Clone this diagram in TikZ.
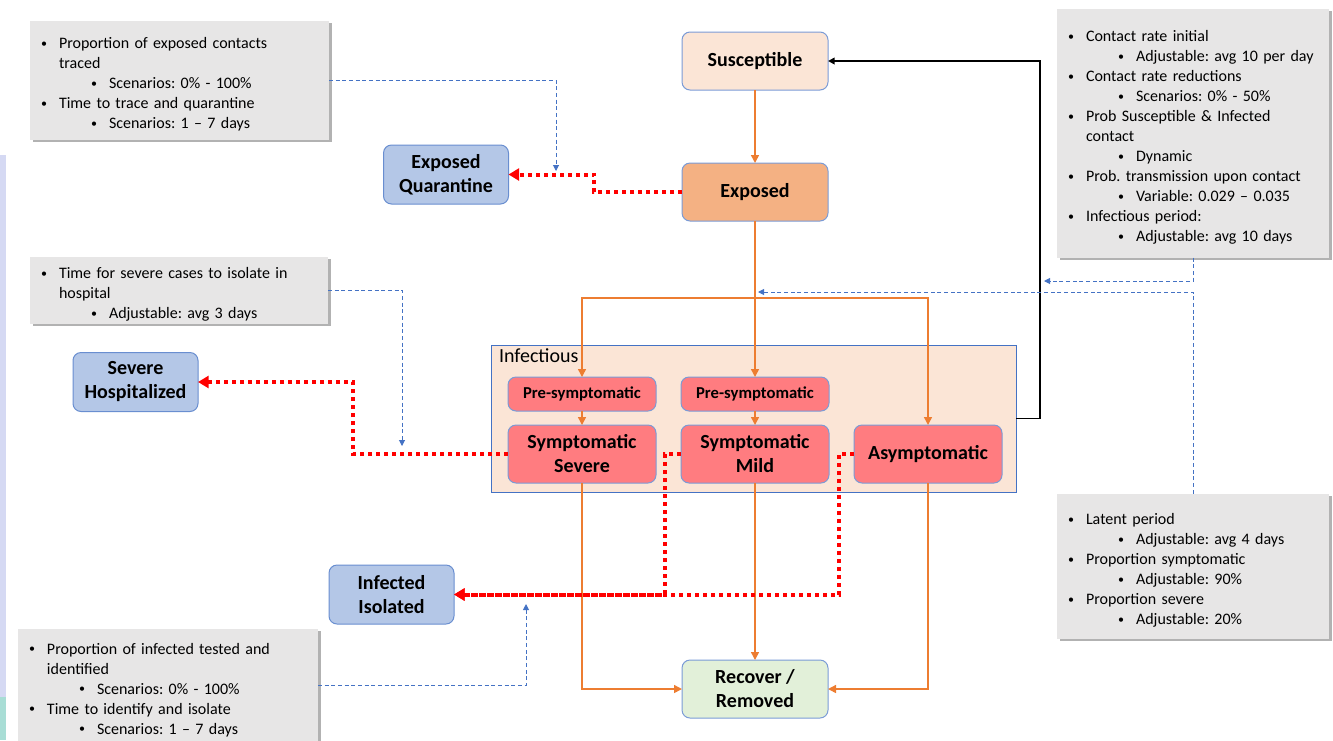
\documentclass[tikz,border=0pt]{standalone}
\usepackage{fontspec}
\setmainfont{Carlito}
\usepackage{enumitem}
\usetikzlibrary{positioning,arrows.meta,shadows}
\definecolor{peach}{HTML}{FBE5D6}
\definecolor{apricot}{HTML}{F4B183}
\definecolor{mint}{HTML}{E2F0D9}
\definecolor{steel}{HTML}{B4C7E7}
\definecolor{salmon}{HTML}{FF7C80}
\definecolor{nodeborder}{HTML}{7A9BD6}
\definecolor{zoneborder}{HTML}{4472C4}
\definecolor{notegray}{HTML}{E7E6E6}
\definecolor{flowor}{HTML}{ED7D31}
\definecolor{parblue}{HTML}{4472C4}
\definecolor{lavstrip}{HTML}{D5D9F3}
\definecolor{tealstrip}{HTML}{A8DDD5}
\pgfdeclarelayer{background}
\pgfsetlayers{background,main}
\frenchspacing
\newcommand\notefont{\fontsize{12}{15}\selectfont}
\newcommand\notedot{\raisebox{1pt}{\fontsize{9}{9}\selectfont\textbullet}}
\setlist[itemize,1]{label=\notedot,leftmargin=19.75pt,labelsep=9pt,nosep}
\setlist[itemize,2]{label=\notedot,leftmargin=37.5pt,labelsep=9pt,nosep}
\tikzset{
  covidpic/.style={
    x=0.75pt,y=-0.75pt
    ,inner sep=0pt
    ,outer sep=0pt
  }
  ,stage/.style={rectangle,rounded corners=6pt
    ,draw=nodeborder,line width=.75pt
    ,minimum width=109.5pt,minimum height=43.5pt
    ,align=center
    ,font=\fontsize{15}{18}\selectfont\bfseries}
  ,susceptible/.style={stage,fill=peach}
  ,exposed/.style={stage,fill=apricot}
  ,recovered/.style={stage,fill=mint}
  ,outcome/.style={stage,fill=steel,draw=zoneborder!80
    ,minimum width=93.75pt,minimum height=44.25pt}
  ,infected/.style={stage,fill=salmon,minimum width=111pt}
  ,presym/.style={infected,minimum height=25.5pt
    ,font=\fontsize{12.5}{15}\selectfont\bfseries}
  ,zone/.style={rectangle,draw=zoneborder,line width=.6pt,fill=peach
    ,minimum width=393.75pt,minimum height=110.25pt}
  ,zonetitle/.style={inner xsep=6pt,inner ysep=3pt
    ,font=\fontsize{15}{18}\selectfont}
  ,notebox/.style={rectangle,fill=notegray
    ,inner xsep=2pt,inner ysep=0pt
    ,align=left,font=\notefont
    ,drop shadow={shadow xshift=2pt,shadow yshift=-2pt,fill=black,opacity=.3}}
  ,flow/.style={draw=flowor,line width=1.1pt,-{Triangle[length=6pt,width=6pt]}}
  ,isolate/.style={draw=red,line width=3pt,dash pattern=on 3pt off 3pt
    ,-{Triangle[length=8pt,width=9pt]}}
  ,param/.style={draw=parblue,line width=.75pt,dash pattern=on 3pt off 2pt
    ,-{Triangle[length=4.5pt,width=4.5pt]}}
  ,feedback/.style={draw=black,line width=1.3pt,-{Triangle[length=5pt,width=5pt]}}
}
\begin{document}
\begin{tikzpicture}[covidpic]
  \useasboundingbox (0,0) rectangle (1333,740);
  % slide edge
  \fill[lavstrip] (0,155) rectangle (6,697);
  \fill[tealstrip] (0,697) rectangle (6,740);

  % compartments
  \node[susceptible] (susc) at (755,61) {Susceptible};
  \node[exposed,below=54.75pt of susc] (expo) {Exposed};
  \node[outcome] (quar) at (446,174.5) {Exposed\\Quarantine};
  \node[outcome] (hosp) at (135.5,382) {Severe\\Hospitalized};
  \node[outcome] (isol) at (391.5,594.5) {Infected\\Isolated};
  \node[presym] (pre1) at (582,394) {Pre-symptomatic};
  \node[presym,right=18.75pt of pre1] (pre2) {Pre-symptomatic};
  \node[infected,below=10.5pt of pre1] (symsev) {Symptomatic\\Severe};
  \node[infected,below=10.5pt of pre2] (symmild) {Symptomatic\\Mild};
  \node[infected,right=18.75pt of symmild] (asym) {Asymptomatic};
  \node[recovered] (recov) at (755,689) {Recover /\\Removed};

  \begin{pgfonlayer}{background}
    \node[zone] (infbox) at (753.5,418.5) {};
    \node[zonetitle,anchor=north west] (inftitle) at (infbox.north west) {Infectious};
  \end{pgfonlayer}

  % parameter notes
  \node[notebox,text width=220.25pt,minimum height=89.25pt] (tracebox) at (179.5,80) {%
    \begin{itemize}
      \item Proportion  of exposed contacts\newline traced
      \begin{itemize}\item Scenarios: 0\% - 100\%\end{itemize}
      \item Time to trace and quarantine
      \begin{itemize}\item Scenarios: 1 – 7 days\end{itemize}
    \end{itemize}};
  \node[notebox,text width=219.5pt,minimum height=50.25pt] (hospbox) at (179,290) {%
    \begin{itemize}
      \item Time for severe cases to isolate in\newline hospital
      \begin{itemize}\item Adjustable: avg 3 days\end{itemize}
    \end{itemize}};
  \node[notebox,text width=221pt,minimum height=85.5pt] (testbox) at (168,685.5) {%
    \begin{itemize}
      \item Proportion  of infected tested and\newline identified
      \begin{itemize}\item Scenarios: 0\% - 100\%\end{itemize}
      \item Time to identify and isolate
      \begin{itemize}\item Scenarios: 1 – 7 days\end{itemize}
    \end{itemize}};
  \node[notebox,text width=200pt,minimum height=186.75pt] (contactbox) at (1193,133) {%
    \begin{itemize}
      \item Contact rate initial
      \begin{itemize}\item Adjustable: avg 10 per day\end{itemize}
      \item Contact rate reductions
      \begin{itemize}\item Scenarios: 0\% - 50\%\end{itemize}
      \item Prob Susceptible \& Infected\newline contact
      \begin{itemize}\item Dynamic\end{itemize}
      \item Prob. transmission upon contact
      \begin{itemize}\item Variable: 0.029 – 0.035\end{itemize}
      \item Infectious period:
      \begin{itemize}\item Adjustable: avg 10 days\end{itemize}
    \end{itemize}};
  \node[notebox,text width=200pt,minimum height=108.75pt] (latentbox) at (1193,566) {%
    \begin{itemize}
      \item Latent period
      \begin{itemize}\item Adjustable: avg 4 days\end{itemize}
      \item Proportion  symptomatic
      \begin{itemize}\item Adjustable: 90\%\end{itemize}
      \item Proportion  severe
      \begin{itemize}\item Adjustable: 20\%\end{itemize}
    \end{itemize}};

  % main flow
  \coordinate (split) at (755,298);
  \draw[flow] (susc) -- (expo);
  \draw[draw=flowor,line width=1.1pt] (expo) -- (split);
  \draw[flow] (split) -| (pre1);
  \draw[flow] (split) -- (pre2);
  \draw[flow] (split) -| (asym);
  \draw[flow] (pre1) -- (symsev);
  \draw[flow] (pre2) -- (symmild);
  \draw[flow] (symsev) |- (recov);
  \draw[flow] (symmild) -- (recov);
  \draw[flow] (asym) |- (recov);
  \draw[feedback] (infbox.east) -- ++(24,0) |- (susc);

  % isolation
  \draw[isolate] (expo.west) -- ++(-88,0) |- (quar);
  \draw[isolate] (symsev.west) -- ++(-155,0) |- (hosp);
  \draw[isolate] (symmild.west) -- ++(-16,0) |- (isol);
  \draw[isolate] (asym.west) -- ++(-15,0) |- (isol);

  % parameters
  \coordinate (qtip) at (556,171);
  \coordinate (htip) at (402,446);
  \coordinate (itip) at (526,604);
  \coordinate (ctip) at (1044,281);
  \coordinate (etip) at (758,292);
  \draw[param] (tracebox) -| (qtip);
  \draw[param] (hospbox) -| (htip);
  \draw[param] (testbox) -| (itip);
  \draw[param] (contactbox) |- (ctip);
  \draw[param] (latentbox) |- (etip);
\end{tikzpicture}
\end{document}
